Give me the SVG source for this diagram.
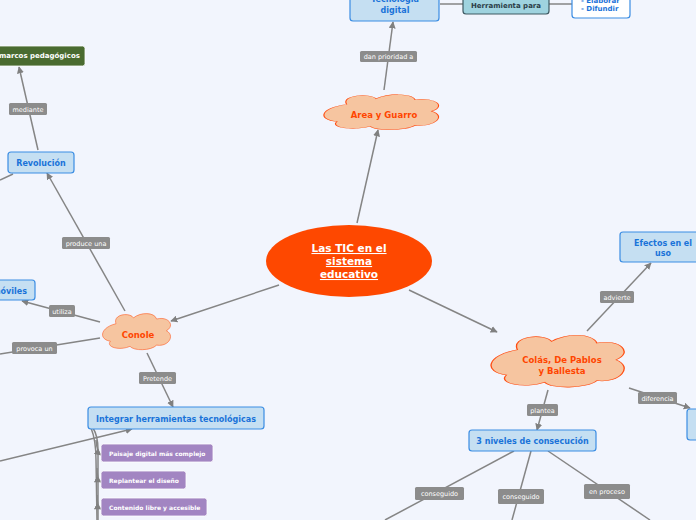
<svg xmlns="http://www.w3.org/2000/svg" width="696" height="520" viewBox="0 0 696 520">
<defs>
<marker id="arr" viewBox="0 0 10 10" refX="9" refY="5" markerWidth="7" markerHeight="7" markerUnits="userSpaceOnUse" orient="auto">
<path d="M0,0 L10,5 L0,10 z" fill="#808080"/>
</marker>
<path id="cloud" d="M20,30 C15,5 40,0 45,15 C55,0 75,0 78,18 C95,10 105,35 92,48 C105,60 95,90 78,85 C70,100 45,100 40,88 C25,100 5,90 12,75 C-5,70 -3,40 20,30 Z"/>
</defs>
<style>
text{font-family:"DejaVu Sans","Liberation Sans",sans-serif;}
.ln{fill:none;stroke:#858585;stroke-width:1.5;}
.lbl rect{fill:#8c8c8c;}
.lbl text{fill:#fff;font-size:6.5px;text-anchor:middle;}
.blue rect{fill:#c5dff2;stroke:#3b8de3;stroke-width:1.2;}
.blue text{fill:#1a73d9;font-weight:bold;font-size:8px;text-anchor:middle;}
.cl use{fill:#f6c5a0;stroke:#ff4d12;stroke-width:1;}
.cl text{fill:#ff4500;font-weight:bold;font-size:8.5px;text-anchor:middle;}
.pur rect{fill:#a285c2;stroke:#fff;stroke-width:0.8;}
.pur text{fill:#fff;font-weight:bold;font-size:6px;}
</style>
<rect width="696" height="520" fill="#f2f5fd"/>
<g id="connectors">
<line class="ln" x1="440" y1="4" x2="463" y2="4"/>
<line class="ln" x1="549" y1="4" x2="572" y2="4"/>
<line class="ln" x1="384" y1="90" x2="393" y2="22" marker-end="url(#arr)"/>
<line class="ln" x1="357" y1="223" x2="378" y2="130" marker-end="url(#arr)"/>
<line class="ln" x1="38" y1="150" x2="19" y2="67" marker-end="url(#arr)"/>
<line class="ln" x1="13" y1="174" x2="0" y2="180"/>
<line class="ln" x1="125" y1="311" x2="47" y2="173" marker-end="url(#arr)"/>
<line class="ln" x1="279" y1="285" x2="171" y2="321" marker-end="url(#arr)"/>
<line class="ln" x1="100" y1="322" x2="22" y2="301" marker-end="url(#arr)"/>
<line class="ln" x1="100" y1="338" x2="0" y2="354"/>
<line class="ln" x1="147" y1="353" x2="173" y2="407" marker-end="url(#arr)"/>
<line class="ln" x1="0" y1="461" x2="132" y2="429" marker-end="url(#arr)"/>
<path class="ln" d="M91,428 Q96,440 96,460 L97,520"/>
<path class="ln" d="M93,428 Q98,436 98,450 L98,520"/>
<path class="ln" d="M96,440 Q97,452 101,455" marker-end="url(#arr)"/>
<path class="ln" d="M97,468 Q97,480 101,482" marker-end="url(#arr)"/>
<path class="ln" d="M97,495 Q97,507 101,509" marker-end="url(#arr)"/>
<line class="ln" x1="409" y1="290" x2="497" y2="332" marker-end="url(#arr)"/>
<line class="ln" x1="587" y1="331" x2="651" y2="263" marker-end="url(#arr)"/>
<line class="ln" x1="629" y1="388" x2="690" y2="408" marker-end="url(#arr)"/>
<line class="ln" x1="548" y1="390" x2="537" y2="430" marker-end="url(#arr)"/>
<line class="ln" x1="514" y1="451" x2="385" y2="520"/>
<line class="ln" x1="531" y1="451" x2="512" y2="520"/>
<line class="ln" x1="548" y1="451" x2="650" y2="520"/>
<g class="lbl">
<rect x="360" y="51" width="57" height="11" rx="1.5"/><text x="388.5" y="59">dan prioridad a</text>
<rect x="9" y="103" width="38" height="12" rx="1.5"/><text x="28" y="111.5">mediante</text>
<rect x="62" y="237" width="48" height="12" rx="1.5"/><text x="86" y="245.5">produce una</text>
<rect x="49" y="305" width="26" height="12" rx="1.5"/><text x="62" y="313.5">utiliza</text>
<rect x="12" y="342" width="45" height="12" rx="1.5"/><text x="34.5" y="350.5">provoca un</text>
<rect x="139" y="372" width="37" height="12" rx="1.5"/><text x="157.5" y="380.5">Pretende</text>
<rect x="600" y="291" width="34" height="12" rx="1.5"/><text x="617" y="299.5">advierte</text>
<rect x="638" y="392" width="39" height="12" rx="1.5"/><text x="657.5" y="400.5">diferencia</text>
<rect x="527" y="404" width="31" height="12" rx="1.5"/><text x="542.5" y="412.5">plantea</text>
<rect x="415" y="487" width="49" height="13" rx="1.5"/><text x="439.5" y="496">conseguido</text>
<rect x="498" y="489" width="46" height="15" rx="1.5"/><text x="521" y="499">conseguido</text>
<rect x="584" y="484" width="46" height="15" rx="1.5"/><text x="607" y="494">en proceso</text>
</g>
</g>
<g id="central">
<ellipse cx="349" cy="261" rx="83" ry="36" fill="#fe4800"/>
<text x="349" y="252" fill="#fff" font-weight="bold" font-size="10.5" text-anchor="middle" text-decoration="underline">Las TIC en el</text>
<text x="349" y="265" fill="#fff" font-weight="bold" font-size="10.5" text-anchor="middle" text-decoration="underline">sistema </text>
<text x="349" y="278" fill="#fff" font-weight="bold" font-size="10.5" text-anchor="middle" text-decoration="underline">educativo</text>
</g>
<g id="area" class="cl">
<use href="#cloud" transform="translate(323,93) scale(1.18,0.38)" style="vector-effect:non-scaling-stroke"/>
<text x="384" y="118">Area y Guarro</text>
</g>
<g id="tecnologia" class="blue">
<rect x="350" y="-14" width="89" height="35" rx="3"/>
<text x="395" y="2" font-size="8.5">Tecnología</text>
<text x="395" y="13" font-size="8.5">digital</text>
</g>
<g id="herramienta">
<rect x="463" y="-10" width="86" height="24" rx="3" fill="#9fd3df" stroke="#3f5a63" stroke-width="1.2"/>
<text x="506" y="8" fill="#2c3e48" font-weight="bold" font-size="7" text-anchor="middle">Herramienta para</text>
</g>
<g id="elaborar">
<rect x="572" y="-14" width="58" height="32" rx="3" fill="#fff" stroke="#3b8de3" stroke-width="1.2"/>
<text x="581" y="2.5" fill="#1a73d9" font-weight="bold" font-size="7">- Elaborar</text>
<text x="581" y="11" fill="#1a73d9" font-weight="bold" font-size="7">- Difundir</text>
</g>
<g id="marcos">
<rect x="-20" y="46" width="105" height="20" rx="2.5" fill="#4a6b30" stroke="#fff" stroke-width="0.8"/>
<text x="-1" y="58" fill="#fff" font-weight="bold" font-size="7">marcos pedagógicos</text>
</g>
<g id="revolucion" class="blue">
<rect x="8" y="152" width="66" height="21" rx="3"/>
<text x="41" y="166">Revolución</text>
</g>
<g id="moviles" class="blue">
<rect x="-40" y="280" width="75" height="20" rx="3"/>
<text x="27" y="293.5" style="text-anchor:end">móviles</text>
</g>
<g id="conole" class="cl">
<use href="#cloud" transform="translate(102,312) scale(0.70,0.39)" style="vector-effect:non-scaling-stroke"/>
<text x="138" y="338">Conole</text>
</g>
<g id="integrar" class="blue">
<rect x="88" y="407" width="176" height="22" rx="3"/>
<text x="176" y="421.5">Integrar herramientas tecnológicas</text>
</g>
<g id="paisaje" class="pur">
<rect x="101" y="444" width="112" height="18" rx="2.5"/>
<text x="109" y="455.5">Paisaje digital más complejo</text>
</g>
<g id="replantear" class="pur">
<rect x="101" y="471" width="85" height="18" rx="2.5"/>
<text x="109" y="482.5">Replantear el diseño</text>
</g>
<g id="contenido" class="pur">
<rect x="101" y="498" width="106" height="18" rx="2.5"/>
<text x="109" y="509.5">Contenido libre y accesible</text>
</g>
<g id="colas" class="cl">
<use href="#cloud" transform="translate(490,333) scale(1.37,0.56)" style="vector-effect:non-scaling-stroke"/>
<text x="562" y="363">Colás, De Pablos</text>
<text x="562" y="374">y Ballesta</text>
</g>
<g id="efectos" class="blue">
<rect x="620" y="232" width="88" height="30" rx="3"/>
<text x="663" y="246">Efectos en el</text>
<text x="663" y="256">uso</text>
</g>
<g id="diferencia-node" class="blue">
<rect x="687" y="409" width="30" height="31" rx="3"/>
</g>
<g id="niveles" class="blue">
<rect x="469" y="430" width="127" height="21" rx="3"/>
<text x="532.5" y="443.5">3 niveles de consecución</text>
</g>
</svg>
